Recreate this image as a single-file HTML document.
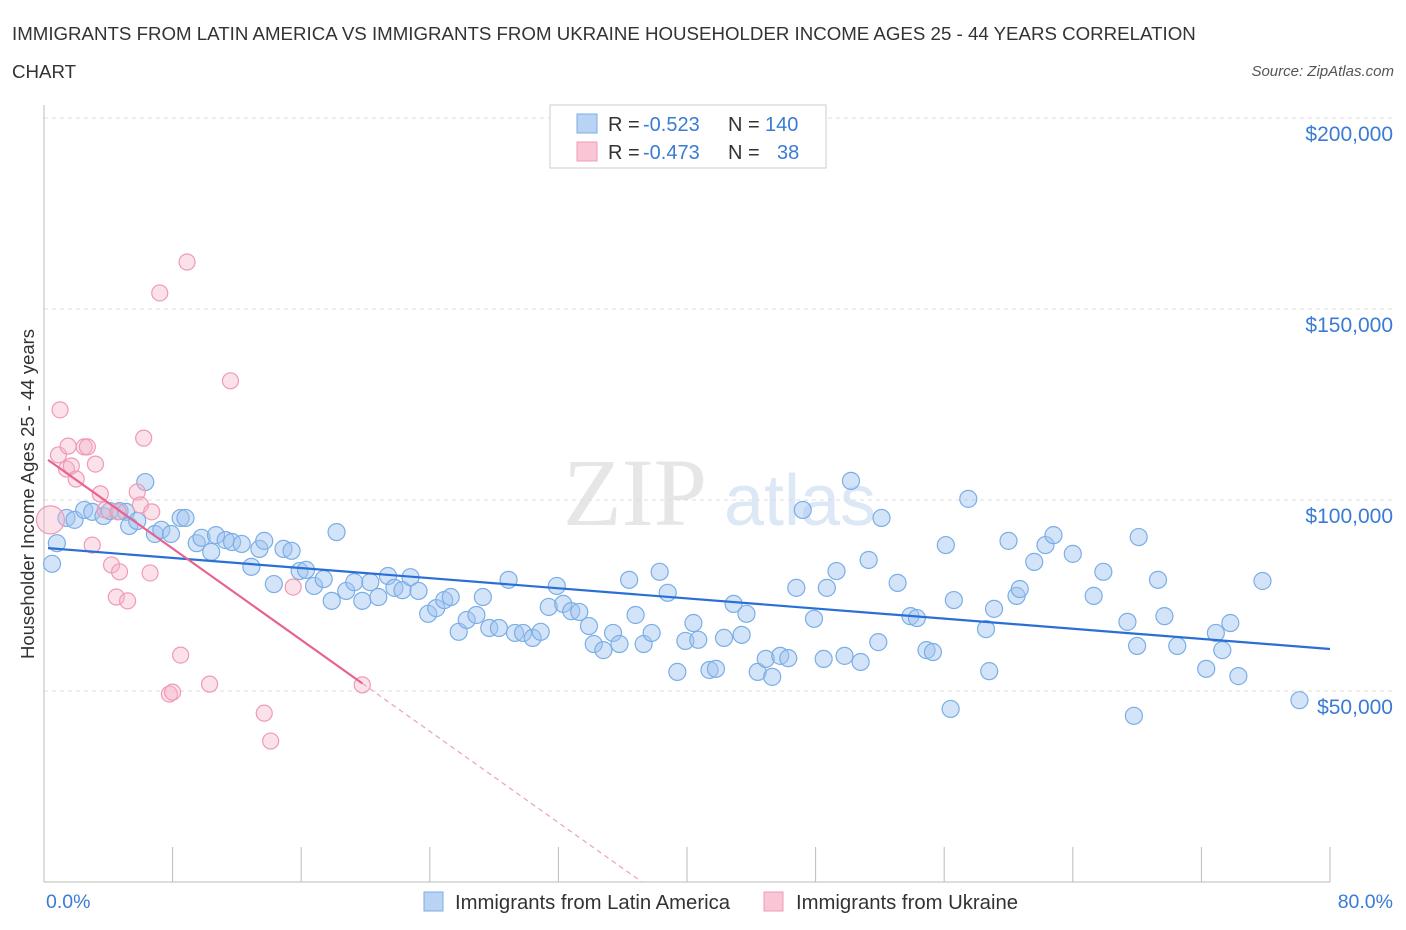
<!DOCTYPE html>
<html><head><meta charset="utf-8"><style>
body{margin:0;background:#fff;font-family:"Liberation Sans",sans-serif;}
svg{display:block}
</style></head><body>
<svg id="chart" width="1406" height="930" xmlns="http://www.w3.org/2000/svg">
<text x="12" y="40" font-size="18.7" fill="#333">IMMIGRANTS FROM LATIN AMERICA VS IMMIGRANTS FROM UKRAINE HOUSEHOLDER INCOME AGES 25 - 44 YEARS CORRELATION</text>
<text x="12" y="78" font-size="18.7" fill="#333">CHART</text>
<text x="1394" y="76" font-size="15" fill="#555" font-style="italic" text-anchor="end">Source: ZipAtlas.com</text>
<text x="635" y="525" font-size="96" fill="#e6e6e6" font-family="Liberation Serif,serif" text-anchor="middle">ZIP</text>
<text x="800" y="525" font-size="72" fill="#dce8f6" text-anchor="middle">atlas</text>
<g id="grid"></g>
<g id="axes"></g>
<g id="pts"></g>
<g id="lines"></g>
<text transform="translate(34,494) rotate(-90)" font-size="18.5" fill="#333" text-anchor="middle">Householder Income Ages 25 - 44 years</text>
<text x="46" y="908" font-size="19.5" fill="#3a7bd5">0.0%</text>
<text x="1393" y="908" font-size="19.5" fill="#3a7bd5" text-anchor="end">80.0%</text>
<g>
<rect x="550" y="105" width="276" height="63" fill="#fff" stroke="#ccc"/>
<rect x="577" y="114" width="20" height="19" fill="#b9d3f5" stroke="#7aaee6"/>
<rect x="577" y="142" width="20" height="19" fill="#f8c6d5" stroke="#f09ab5"/>
<text x="608" y="131" font-size="20" fill="#333">R = <tspan x="643" fill="#3a7bd5">-0.523</tspan></text>
<text x="728" y="131" font-size="20" fill="#333">N = <tspan x="765" fill="#3a7bd5">140</tspan></text>
<text x="608" y="159" font-size="20" fill="#333">R = <tspan x="643" fill="#3a7bd5">-0.473</tspan></text>
<text x="728" y="159" font-size="20" fill="#333">N = <tspan fill="#3a7bd5" x="777">38</tspan></text>
</g>
<g>
<rect x="424" y="892" width="19" height="19" fill="#b9d3f5" stroke="#7aaee6"/>
<text x="455" y="909" font-size="20.3" fill="#333">Immigrants from Latin America</text>
<rect x="764" y="892" width="19" height="19" fill="#f8c6d5" stroke="#f09ab5"/>
<text x="796" y="909" font-size="20.3" fill="#333">Immigrants from Ukraine</text>
</g>
</svg>
<script>
const blueX=[0.5,0.8,1.4,1.9,2.5,3.0,3.7,4.1,4.7,5.1,5.3,5.8,6.3,6.9,7.3,7.9,8.5,8.8,9.5,9.8,10.4,10.7,11.3,11.7,12.3,12.9,13.4,13.7,14.3,14.9,15.4,15.9,16.3,16.8,17.4,17.9,18.2,18.8,19.3,19.8,20.3,20.8,21.4,21.8,22.3,22.8,23.3,23.9,24.4,24.9,25.3,25.8,26.3,26.9,27.3,27.7,28.3,28.9,29.3,29.8,30.4,30.9,31.4,31.9,32.3,32.8,33.3,33.9,34.2,34.8,35.4,35.8,36.4,36.8,37.3,37.8,38.3,38.8,39.4,39.9,40.4,40.7,41.4,41.8,42.3,42.9,43.4,43.7,44.4,44.9,45.3,45.8,46.3,46.8,47.2,47.9,48.5,48.7,49.3,49.8,50.2,50.8,51.3,51.9,52.1,53.1,53.9,54.3,54.9,55.3,56.1,56.4,56.6,57.5,58.6,58.8,59.1,60.0,60.5,60.7,61.6,62.3,62.8,64.0,65.3,65.9,67.4,67.8,68.0,68.1,69.3,69.7,70.5,72.3,72.9,73.3,73.8,74.3,75.8,78.1];
const blueY=[83.3,88.7,95.3,94.8,97.4,96.9,95.8,97.1,97.1,96.9,93.2,94.5,104.7,91.1,92.2,91.1,95.3,95.3,88.7,90.1,86.4,90.8,89.5,89.0,88.5,82.5,87.2,89.3,78.0,87.2,86.7,81.4,81.7,77.5,79.3,73.6,91.6,76.2,78.5,73.6,78.5,74.6,80.1,77.0,76.4,79.8,76.2,70.2,71.7,73.8,74.6,65.5,68.6,69.9,74.6,66.5,66.5,79.1,65.2,65.2,63.9,65.5,72.0,77.5,72.8,70.9,70.7,67.0,62.3,60.7,65.2,62.3,79.1,69.9,62.3,65.2,81.2,75.7,55.0,63.1,67.8,63.4,55.5,55.8,63.9,72.8,64.7,70.2,55.0,58.4,53.7,59.2,58.6,77.0,97.4,68.9,58.4,77.0,81.4,59.2,105.0,57.6,84.3,62.8,95.3,78.3,69.6,69.1,60.7,60.2,88.2,45.3,73.8,100.3,66.2,55.2,71.5,89.3,74.9,76.7,83.8,88.2,90.8,85.9,74.9,81.2,68.1,43.5,61.8,90.3,79.1,69.6,61.8,55.8,65.2,60.7,67.8,53.9,78.8,47.6];
const pinkX=[0.4,0.9,1.0,1.5,1.4,1.7,2.0,2.5,2.7,3.0,3.2,3.5,3.8,4.2,4.5,4.6,4.7,5.2,5.8,6.0,6.2,6.6,6.7,7.2,7.8,8.0,8.5,8.9,10.3,11.6,13.7,14.1,15.5,19.8];
const pinkY=[94.8,111.8,123.6,114.1,108.1,108.9,105.5,113.9,113.9,88.2,109.4,101.6,97.4,83.0,74.6,96.9,81.2,73.6,102.1,98.7,116.2,80.9,96.9,154.2,49.2,49.7,59.4,162.3,51.8,131.2,44.2,36.9,77.2,51.6];
const yTicks=[50000,100000,150000,200000];
const yTickLabels=["$50,000","$100,000","$150,000","$200,000"];
const blueTrend=[[0.25,87.4],[80,61.0]];
const pinkTrend=[[0.25,110.5],[19.8,52.0],[37.2,0]];
const NS="http://www.w3.org/2000/svg";
const sx=p=>44+p*(1286/80);
const sy=v=>882-v*(191/50000);
function mk(tag,attrs,parent){const e=document.createElementNS(NS,tag);for(const k in attrs)e.setAttribute(k,attrs[k]);parent.appendChild(e);return e;}
const grid=document.getElementById('grid'),axes=document.getElementById('axes'),pts=document.getElementById('pts'),lines=document.getElementById('lines');
yTicks.forEach((t,i)=>{
 const l=mk('line',{x1:44,x2:1395,y1:sy(t),y2:sy(t),stroke:'#ddd','stroke-dasharray':'4,4'},grid);
 
 
 const tx=mk('text',{x:1393,y:sy(t)+23,'font-size':21,fill:'#3a7bd5','text-anchor':'end'},axes);
 tx.textContent=yTickLabels[i];
 
 
});
const yax=mk('line',{x1:44,x2:44,y1:105,y2:882,stroke:'#bbb'},axes);


const xax=mk('line',{x1:44,x2:1330,y1:882,y2:882,stroke:'#bbb'},axes);


for(let i=0;i<=10;i++){
 const tk=mk('line',{x1:sx(i*8),x2:sx(i*8),y1:847,y2:882,stroke:'#bbb'},axes);
 
 
}
blueX.forEach((x,i)=>{
 const c=mk('circle',{cx:sx(x),cy:sy(blueY[i]*1000),r:8.5,fill:'rgba(160,196,240,0.45)',stroke:'#7aaee6','stroke-width':1.2},pts);
 
 
});
pinkX.forEach((x,i)=>{
 const c=mk('circle',{cx:sx(x),cy:sy(pinkY[i]*1000),r:i===0?14:8,fill:'rgba(246,180,200,0.4)',stroke:'#f09ab5','stroke-width':1.2},pts);
 
 
});
const bl=mk('line',{x1:sx(blueTrend[0][0]),y1:sy(blueTrend[0][1]*1000),x2:sx(blueTrend[1][0]),y2:sy(blueTrend[1][1]*1000),stroke:'#2a6fd6','stroke-width':2.2},lines);


const pl=mk('line',{x1:sx(pinkTrend[0][0]),y1:sy(pinkTrend[0][1]*1000),x2:sx(pinkTrend[1][0]),y2:sy(pinkTrend[1][1]*1000),stroke:'#e8628f','stroke-width':2.2},lines);


const pd=mk('line',{x1:sx(pinkTrend[1][0]),y1:sy(pinkTrend[1][1]*1000),x2:sx(pinkTrend[2][0]),y2:sy(pinkTrend[2][1]*1000),stroke:'#eea0b8','stroke-width':1.2,'stroke-dasharray':'5,4'},lines);


</script>
</body></html>
